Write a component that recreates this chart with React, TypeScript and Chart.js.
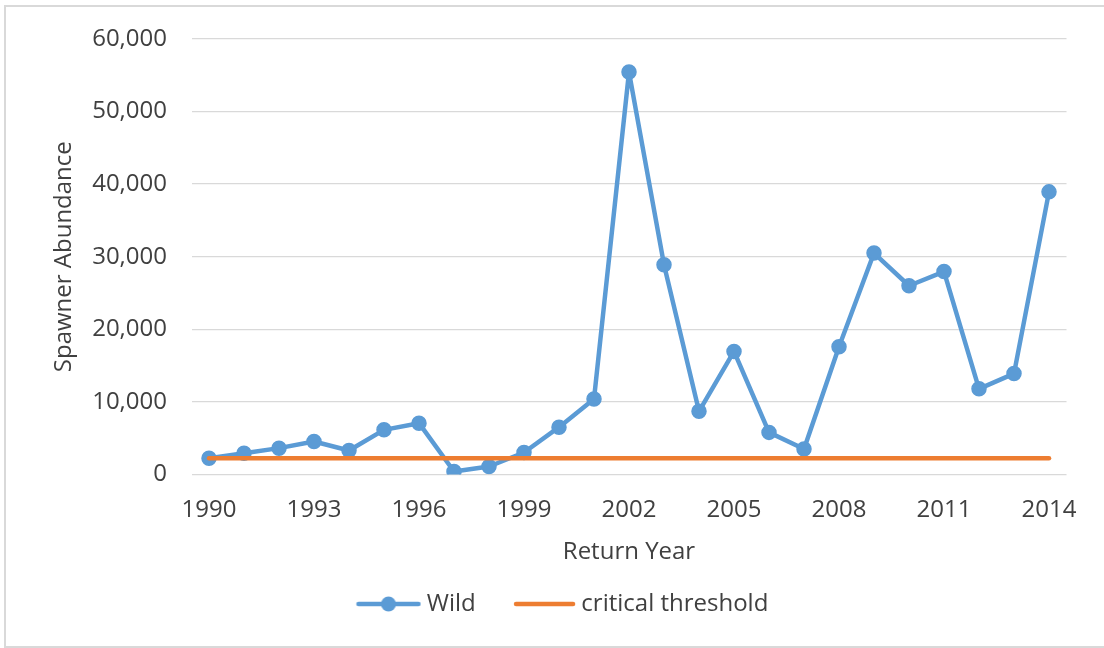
import React, { useEffect, useRef } from "react";
import { Chart, registerables } from "chart.js";

Chart.register(...registerables);

const years = [
  "1990", "1991", "1992", "1993", "1994", "1995", "1996", "1997", "1998", "1999",
  "2000", "2001", "2002", "2003", "2004", "2005", "2006", "2007", "2008", "2009",
  "2010", "2011", "2012", "2013", "2014",
];

const wild = [
  2250, 2940, 3630, 4540, 3300, 6150, 7070, 410, 1100, 3030,
  6520, 10410, 55430, 28900, 8700, 16950, 5800, 3500, 17600, 30500,
  26000, 27950, 11800, 13900, 38930,
];

const criticalThreshold = [
  2250, 2250, 2250, 2250, 2250, 2250, 2250, 2250, 2250, 2250,
  2250, 2250, 2250, 2250, 2250, 2250, 2250, 2250, 2250, 2250,
  2250, 2250, 2250, 2250, 2250,
];

const yTicks = [0, 10000, 20000, 30000, 40000, 50000, 60000];

const BLUE = "#5B9BD5";
const ORANGE = "#ED7D31";
const TEXT = "#404040";
const GRID = "#D9D9D9";
const FONT = "'Open Sans', sans-serif";

function makeLegendImage(color: string, lineFrom: number, lineTo: number, marker: boolean) {
  const c = document.createElement("canvas");
  c.width = 90;
  c.height = 18;
  const ctx = c.getContext("2d")!;
  ctx.strokeStyle = color;
  ctx.lineWidth = 4.5;
  ctx.lineCap = "round";
  ctx.beginPath();
  ctx.moveTo(lineFrom + 2, 9);
  ctx.lineTo(lineTo - 2, 9);
  ctx.stroke();
  if (marker) {
    ctx.fillStyle = color;
    ctx.beginPath();
    ctx.arc((lineFrom + lineTo) / 2, 9, 7.5, 0, Math.PI * 2);
    ctx.fill();
  }
  return c;
}

export default function App() {
  const ref = useRef<HTMLCanvasElement | null>(null);

  useEffect(() => {
    if (!ref.current) return;
    const wildImg = makeLegendImage(BLUE, 25, 89, true);
    const threshImg = makeLegendImage(ORANGE, 28, 89, false);
    const defaultGen = Chart.defaults.plugins.legend.labels.generateLabels;

    const chart = new Chart(ref.current, {
      type: "line",
      data: {
        labels: years,
        datasets: [
          {
            label: "Wild",
            data: wild,
            borderColor: BLUE,
            backgroundColor: BLUE,
            borderWidth: 4.5,
            borderJoinStyle: "round",
            borderCapStyle: "round",
            pointRadius: 7,
            pointBorderWidth: 1.5,
            pointBackgroundColor: BLUE,
            pointBorderColor: BLUE,
            tension: 0,
            order: 1,
          },
          {
            label: "critical threshold",
            data: criticalThreshold,
            borderColor: ORANGE,
            backgroundColor: ORANGE,
            borderWidth: 4.5,
            borderCapStyle: "round",
            pointRadius: 0,
            tension: 0,
            order: 0,
          },
        ],
      },
      options: {
        responsive: false,
        animation: false,
        devicePixelRatio: 1,
        layout: { padding: { left: 40, right: 37.5, top: 38.3, bottom: 22 } },
        plugins: {
          tooltip: { enabled: false },
          legend: {
            display: true,
            position: "bottom",
            labels: {
              usePointStyle: true,
              pointStyleWidth: 76.6,
              padding: 17,
              color: TEXT,
              font: { family: FONT, size: 24 },
              generateLabels: (ch: any) => {
                const items = defaultGen(ch).sort((a: any, b: any) => a.datasetIndex - b.datasetIndex);
                items.forEach((it: any) => {
                  it.pointStyle = it.datasetIndex === 0 ? wildImg : threshImg;
                });
                return items;
              },
            },
          },
        },
        scales: {
          x: {
            type: "category",
            offset: true,
            grid: { display: false, drawTicks: false },
            border: { display: false },
            afterFit: (scale: any) => {
              scale.height = 100.5;
            },
            ticks: {
              autoSkip: false,
              maxRotation: 0,
              minRotation: 0,
              padding: 21,
              color: TEXT,
              font: { family: FONT, size: 24 },
              callback: (_v: any, i: number) => (i % 3 === 0 ? years[i] : ""),
            },
            title: {
              display: true,
              text: "Return Year",
              color: TEXT,
              font: { family: FONT, size: 24 },
              padding: { top: 0, bottom: 8.6 },
            },
          },
          y: {
            min: 0,
            max: 60000,
            grid: { color: GRID, lineWidth: 1.3, drawTicks: false },
            border: { display: false },
            afterBuildTicks: (scale: any) => {
              scale.ticks = yTicks.map((v) => ({ value: v }));
            },
            afterFit: (scale: any) => {
              scale.width = 151.5;
            },
            ticks: {
              padding: 24.5,
              color: TEXT,
              font: { family: FONT, size: 24 },
              callback: (v: any) => Number(v).toLocaleString("en-US"),
            },
            title: {
              display: true,
              text: "Spawner Abundance",
              color: TEXT,
              font: { family: FONT, size: 24 },
              padding: { top: 9.6, bottom: 0 },
            },
          },
        },
      },
    });
    return () => chart.destroy();
  }, []);

  return (
    <div
      style={{
        position: "fixed",
        left: 0,
        top: 0,
        width: 1104,
        height: 648,
        overflow: "hidden",
        background: "#FFFFFF",
      }}
    >
      <canvas ref={ref} width={1104} height={648} style={{ position: "absolute", left: 0, top: 0 }} />
      <div
        style={{
          position: "absolute",
          left: 4,
          top: 5,
          width: 1200,
          height: 643,
          boxSizing: "border-box",
          border: "2px solid #D9D9D9",
          pointerEvents: "none",
        }}
      />
    </div>
  );
}
